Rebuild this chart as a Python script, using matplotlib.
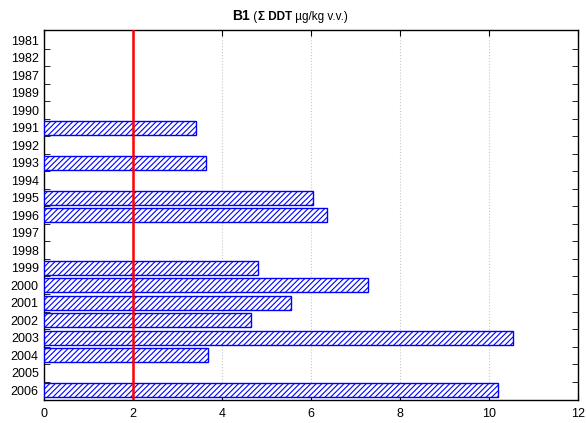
import numpy as np
import matplotlib.pyplot as plt
from matplotlib.ticker import MultipleLocator, FixedLocator

plt.rcParams['font.family'] = ['Liberation Sans', 'DejaVu Sans']
plt.rcParams['hatch.color'] = 'blue'
plt.rcParams['hatch.linewidth'] = 0.8

years = ['1981', '1982', '1987', '1989', '1990', '1991', '1992', '1993', '1994',
         '1995', '1996', '1997', '1998', '1999', '2000', '2001', '2002', '2003',
         '2004', '2005', '2006']
ddt = [np.nan, np.nan, np.nan, np.nan, np.nan, 3.42, np.nan, 3.63, np.nan,
       6.04, 6.37, np.nan, np.nan, 4.81, 7.29, 5.55, 4.64, 10.54,
       3.68, np.nan, 10.2]
limit = 2

fig = plt.figure(figsize=(5.86, 4.23), dpi=100)
ax = fig.add_axes([0.0756, 0.0544, 0.9104, 0.8746])

pos = np.arange(len(years))
ax.barh(pos, ddt, height=0.8, color='white', edgecolor='blue', hatch='//////', linewidth=1.0, zorder=3)
ax.axvline(limit, color='red', lw=1.8, zorder=4)

ax.set_xlim(0, 12)
ax.set_ylim(len(years) - 0.45, -0.57)
ax.xaxis.set_major_locator(MultipleLocator(2))
ax.set_yticks(pos)
ax.set_yticklabels(years)
ax.yaxis.set_minor_locator(FixedLocator(pos[1:] - 0.5))
ax.tick_params(axis='y', which='major', length=0)
ax.tick_params(axis='y', which='minor', direction='in', length=4, left=True, right=True)
ax.tick_params(axis='x', direction='in', length=4, top=True, bottom=True)
ax.tick_params(labelsize=9, pad=4)
ax.tick_params(axis='x', pad=6)
ax.grid(axis='x', color='#c8c8c8', ls=':', lw=0.8, zorder=0)
for s in ax.spines.values():
    s.set_linewidth(1.0)

# title with mixed weights, laid out piece by piece
parts = [('B1', 'bold', 10), (' (', 'normal', 8.5), ('\u03a3 DDT', 'bold', 8.5), (' \u00b5g/kg v.v.)', 'normal', 8.5)]
ty = 1 - 20 / 423
texts = [fig.text(0, ty, p, fontweight=w, fontsize=fs, ha='left', va='baseline') for p, w, fs in parts]
fig.canvas.draw()
r = fig.canvas.get_renderer()
widths = [t.get_window_extent(r).width / fig.bbox.width for t in texts]
x = 0.495 - sum(widths) / 2
for t, w in zip(texts, widths):
    t.set_x(x)
    x += w

fig.savefig('out.png', dpi=100)
